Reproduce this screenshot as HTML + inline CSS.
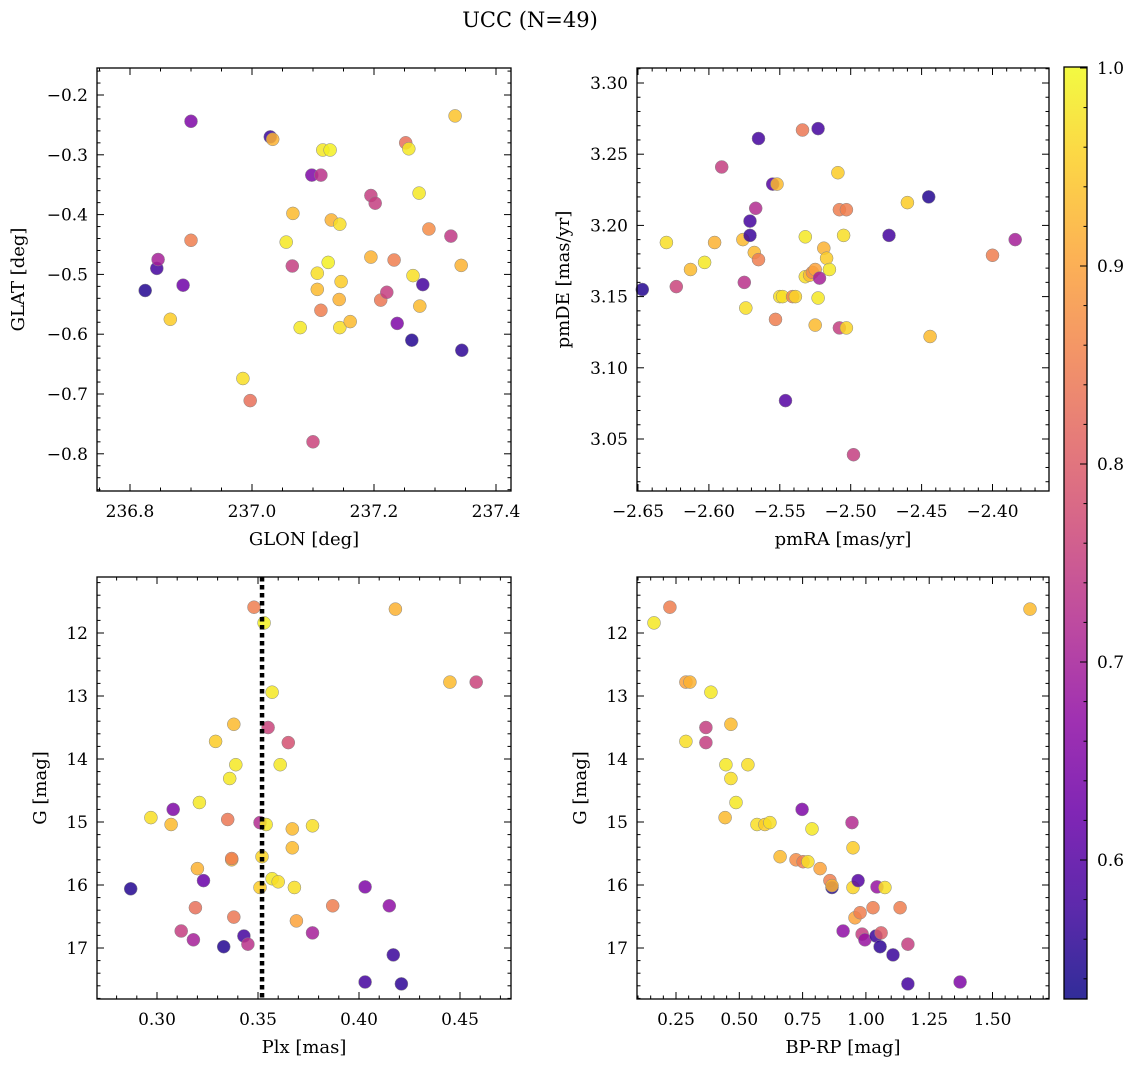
<!DOCTYPE html>
<html><head><meta charset="utf-8"><style>
html,body{margin:0;padding:0;background:#fff;}
svg{display:block;font-family:"DejaVu Serif","Liberation Serif",serif;}
</style></head><body>
<svg id="fig" width="1136" height="1067" viewBox="0 0 1136 1067" xmlns="http://www.w3.org/2000/svg">
<defs>
<linearGradient id="cbgrad" x1="0" y1="1" x2="0" y2="0">
<stop offset="0" stop-color="#0d0887"/><stop offset="0.1" stop-color="#41049d"/><stop offset="0.2" stop-color="#6a00a8"/><stop offset="0.3" stop-color="#8f0da4"/><stop offset="0.4" stop-color="#b12a90"/><stop offset="0.5" stop-color="#cc4778"/><stop offset="0.6" stop-color="#e16462"/><stop offset="0.7" stop-color="#f2844b"/><stop offset="0.8" stop-color="#fca636"/><stop offset="0.9" stop-color="#fcce25"/><stop offset="1" stop-color="#f0f921"/>
</linearGradient>
</defs>
<text x="530" y="27" text-anchor="middle" font-size="21">UCC (N=49)</text>
</svg>
<script>
// Panel 1: GLON / GLAT
const glon = [236.825,236.844,236.846,236.866,236.887,236.900,236.900,236.985,236.997,237.030,237.034,237.056,237.066,237.067,237.079,237.098,237.100,237.107,237.107,237.113,237.113,237.116,237.128,237.125,237.130,237.144,237.143,237.146,237.144,237.161,237.195,237.195,237.202,237.211,237.221,237.233,237.238,237.252,237.257,237.262,237.264,237.274,237.275,237.280,237.290,237.326,237.333,237.343,237.344];
const glat = [-0.527,-0.490,-0.475,-0.575,-0.518,-0.244,-0.443,-0.674,-0.711,-0.270,-0.274,-0.446,-0.486,-0.398,-0.589,-0.334,-0.780,-0.498,-0.525,-0.334,-0.560,-0.292,-0.292,-0.480,-0.409,-0.416,-0.542,-0.512,-0.589,-0.579,-0.368,-0.471,-0.381,-0.543,-0.530,-0.476,-0.582,-0.280,-0.290,-0.610,-0.502,-0.364,-0.553,-0.517,-0.424,-0.436,-0.235,-0.485,-0.627];
const prob1 = [0.55,0.58,0.70,0.95,0.63,0.65,0.85,0.97,0.83,0.57,0.92,0.98,0.75,0.93,0.98,0.65,0.76,0.97,0.93,0.73,0.85,0.98,0.99,0.99,0.92,0.97,0.92,0.95,0.97,0.93,0.75,0.92,0.75,0.84,0.75,0.85,0.65,0.83,0.98,0.55,0.97,0.98,0.93,0.58,0.87,0.74,0.94,0.92,0.56];
// Panel 2: pmRA / pmDE
const pmra = [-2.647,-2.630,-2.623,-2.613,-2.603,-2.596,-2.591,-2.575,-2.574,-2.576,-2.571,-2.571,-2.568,-2.567,-2.565,-2.565,-2.555,-2.552,-2.553,-2.550,-2.548,-2.546,-2.541,-2.539,-2.534,-2.532,-2.532,-2.529,-2.527,-2.525,-2.525,-2.523,-2.523,-2.522,-2.519,-2.517,-2.515,-2.509,-2.508,-2.508,-2.505,-2.503,-2.503,-2.498,-2.473,-2.460,-2.445,-2.444,-2.400,-2.384];
const pmde = [3.155,3.188,3.157,3.169,3.174,3.188,3.241,3.160,3.142,3.190,3.203,3.193,3.181,3.212,3.176,3.261,3.229,3.229,3.134,3.150,3.150,3.077,3.150,3.150,3.267,3.192,3.164,3.165,3.167,3.169,3.130,3.268,3.149,3.163,3.184,3.177,3.169,3.237,3.211,3.128,3.193,3.128,3.211,3.039,3.193,3.216,3.220,3.122,3.179,3.190];
const prob2 = [0.55,0.97,0.76,0.93,0.98,0.92,0.75,0.73,0.97,0.93,0.58,0.57,0.93,0.72,0.85,0.58,0.60,0.93,0.85,0.97,0.97,0.60,0.86,0.96,0.84,0.98,0.97,0.93,0.87,0.90,0.93,0.58,0.98,0.70,0.92,0.95,0.98,0.95,0.85,0.75,0.97,0.96,0.85,0.75,0.58,0.95,0.55,0.93,0.85,0.70];
// Panel 3: Plx / G
const plx = [0.287,0.297,0.307,0.308,0.312,0.318,0.319,0.320,0.321,0.323,0.329,0.333,0.335,0.336,0.337,0.337,0.338,0.338,0.339,0.343,0.345,0.348,0.351,0.352,0.351,0.353,0.354,0.355,0.357,0.357,0.360,0.361,0.365,0.367,0.367,0.368,0.369,0.377,0.377,0.387,0.403,0.403,0.415,0.417,0.418,0.421,0.445,0.458];
const gmag3 = [16.06,14.93,15.04,14.80,16.73,16.87,16.36,15.74,14.69,15.93,13.72,16.98,14.96,14.31,15.60,15.58,16.51,13.45,14.09,16.81,16.94,11.59,15.01,15.55,16.04,11.84,15.04,13.50,12.94,15.90,15.95,14.09,13.74,15.41,15.11,16.04,16.57,15.06,16.76,16.33,16.03,17.54,16.33,17.11,11.62,17.57,12.78,12.78];
const prob3 = [0.55,0.97,0.93,0.65,0.75,0.70,0.83,0.92,0.98,0.62,0.95,0.55,0.84,0.98,0.93,0.85,0.84,0.93,0.98,0.58,0.73,0.85,0.72,0.96,0.95,0.99,0.98,0.76,0.98,0.98,0.97,0.98,0.78,0.93,0.93,0.97,0.90,0.97,0.70,0.85,0.65,0.58,0.67,0.57,0.92,0.56,0.93,0.76];
const plxRef = [0.352];
// Panel 4: BP-RP / G
const bprp = [0.163,0.226,0.289,0.305,0.289,0.388,0.368,0.368,0.467,0.447,0.467,0.487,0.444,0.534,0.570,0.601,0.621,0.661,0.724,0.748,0.752,0.787,0.771,0.819,0.858,0.866,0.866,0.910,0.945,0.949,0.949,0.957,0.969,0.977,0.985,0.996,1.028,1.040,1.044,1.056,1.060,1.075,1.107,1.135,1.166,1.166,1.372,1.648];
const gmag4 = [11.84,11.59,12.78,12.78,13.72,12.94,13.50,13.74,13.45,14.09,14.31,14.69,14.93,14.09,15.04,15.04,15.01,15.55,15.60,14.80,15.63,15.11,15.63,15.74,15.93,16.04,16.01,16.73,15.01,15.41,16.04,16.52,15.93,16.44,16.78,16.87,16.36,16.81,16.03,16.98,16.76,16.04,17.11,16.36,16.94,17.57,17.54,11.62];
const prob4 = [0.98,0.85,0.90,0.92,0.97,0.98,0.75,0.75,0.93,0.98,0.97,0.98,0.93,0.97,0.97,0.95,0.97,0.93,0.87,0.65,0.85,0.98,0.97,0.90,0.85,0.55,0.92,0.67,0.72,0.95,0.96,0.90,0.60,0.85,0.75,0.68,0.85,0.57,0.68,0.56,0.80,0.97,0.57,0.85,0.75,0.58,0.65,0.93];
// Colorbar ticks
const cbTicks = [0.6,0.7,0.8,0.9,1.0];
const cbTickLabels = ["0.6","0.7","0.8","0.9","1.0"];

const VMIN = 0.530, VMAX = 1.0;
const NS = "http://www.w3.org/2000/svg";
const svg = document.getElementById('fig');
const plasma = [[13,8,135],[65,4,157],[106,0,168],[143,13,164],[177,42,144],[204,71,120],[225,100,98],[242,132,75],[252,166,54],[252,206,37],[240,249,33]];
function cmap(v){
  let t = (v - VMIN) / (VMAX - VMIN); t = Math.max(0, Math.min(1, t));
  const p = t * 10, i = Math.min(9, Math.floor(p)), f = p - i;
  const a = plasma[i], b = plasma[i+1];
  return 'rgb(' + [0,1,2].map(k => Math.round(a[k] + (b[k]-a[k])*f)).join(',') + ')';
}
function mk(tag, attrs, parent){
  const e = document.createElementNS(NS, tag);
  for (const k in attrs) e.setAttribute(k, attrs[k]);
  (parent || svg).appendChild(e);
  return e;
}
function decimals(step){ const s = String(step); return s.includes('.') ? s.split('.')[1].length : 0; }
function fmt(v, d){ const s = Math.abs(v).toFixed(d); return (v < -1e-9 ? '\u2212' : '') + s; }

function panel(o){
  const g = mk('g', {});
  
  
  const sx = v => o.x0 + (v - o.xmin) / (o.xmax - o.xmin) * (o.x1 - o.x0);
  const sy = o.yinv ? (v => o.y0 + (v - o.ymin) / (o.ymax - o.ymin) * (o.y1 - o.y0))
                    : (v => o.y1 - (v - o.ymin) / (o.ymax - o.ymin) * (o.y1 - o.y0));
  const pg = mk('g', {}, g);
  
  
  for (let i = 0; i < o.xs.length; i++){
    const c = mk('circle', {cx: sx(o.xs[i]).toFixed(1), cy: sy(o.ys[i]).toFixed(1), r: 6.5, fill: cmap(o.cs[i]), 'fill-opacity': 0.85, stroke: '#888', 'stroke-width': 0.5}, pg);
    
    
  }
  if (o.vline){
    const l = mk('line', {x1: sx(o.vline[0]), x2: sx(o.vline[0]), y1: o.y0, y2: o.y1, stroke: '#000', 'stroke-width': 4.5, 'stroke-dasharray': '4.5 3.5'}, g);
    
    
  }
  const fr = mk('rect', {x: o.x0, y: o.y0, width: o.x1 - o.x0, height: o.y1 - o.y0, fill: 'none', stroke: '#000', 'stroke-width': 1.3}, g);
  
  
  const tg = mk('g', {stroke: '#000', 'stroke-width': 1}, g);
  
  
  const dx = decimals(o.xstep), dy = decimals(o.ystep);
  const xs0 = Math.ceil((o.xmin - 1e-9) / o.xminor) * o.xminor;
  for (let v = xs0; v <= o.xmax + 1e-9; v += o.xminor){
    const X = sx(v);
    const major = Math.abs(v / o.xstep - Math.round(v / o.xstep)) < 1e-4;
    const L = major ? 7 : 3.5;
    mk('line', {x1: X, x2: X, y1: o.y1, y2: o.y1 - L}, tg);
    mk('line', {x1: X, x2: X, y1: o.y0, y2: o.y0 + L}, tg);
    if (major){
      const t = mk('text', {x: X, y: o.y1 + 26, 'text-anchor': 'middle', 'font-size': 17, stroke: 'none'}, g);
      t.textContent = fmt(Math.round(v / o.xstep) * o.xstep, dx);
      
      
    }
  }
  const ys0 = Math.ceil((o.ymin - 1e-9) / o.yminor) * o.yminor;
  for (let v = ys0; v <= o.ymax + 1e-9; v += o.yminor){
    const Y = sy(v);
    const major = Math.abs(v / o.ystep - Math.round(v / o.ystep)) < 1e-4;
    const L = major ? 7 : 3.5;
    mk('line', {x1: o.x0, x2: o.x0 + L, y1: Y, y2: Y}, tg);
    mk('line', {x1: o.x1, x2: o.x1 - L, y1: Y, y2: Y}, tg);
    if (major){
      const t = mk('text', {x: o.x0 - 9, y: Y + 6, 'text-anchor': 'end', 'font-size': 17, stroke: 'none'}, g);
      t.textContent = fmt(Math.round(v / o.ystep) * o.ystep, dy);
      
      
    }
  }
  const xl = mk('text', {x: (o.x0 + o.x1) / 2, y: o.y1 + 54, 'text-anchor': 'middle', 'font-size': 18}, g);
  xl.textContent = o.xlabel;
  
  
  const yx = o.ylx, yy = (o.y0 + o.y1) / 2;
  const yl = mk('text', {x: yx, y: yy, 'text-anchor': 'middle', 'font-size': 18, transform: 'rotate(-90 ' + yx + ' ' + yy + ')'}, g);
  yl.textContent = o.ylabel;
  
  
}

panel({name:'panel-glon-glat', x0:97, x1:511, y0:68, y1:491, xmin:236.8+(97-130)/610, xmax:236.8+(511-130)/610, ymin:-0.2-(491-95)/598, ymax:-0.2+(95-68)/598, xstep:0.2, xminor:0.05, ystep:0.1, yminor:0.02, xs:glon, ys:glat, cs:prob1, xlabel:'GLON [deg]', ylabel:'GLAT [deg]', ylx:24});
panel({name:'panel-pmra-pmde', x0:637, x1:1049, y0:68, y1:491, xmin:-2.65+(637-638)/1418, xmax:-2.65+(1049-638)/1418, ymin:3.30-(491-83)/1424, ymax:3.30+(83-68)/1424, xstep:0.05, xminor:0.01, ystep:0.05, yminor:0.01, xs:pmra, ys:pmde, cs:prob2, xlabel:'pmRA [mas/yr]', ylabel:'pmDE [mas/yr]', ylx:569});
panel({name:'panel-plx-g', x0:97, x1:511, y0:577, y1:999, xmin:0.30+(97-157)/2020, xmax:0.30+(511-157)/2020, ymin:12+(577-633)/63, ymax:12+(999-633)/63, yinv:true, xstep:0.05, xminor:0.01, ystep:1, yminor:0.2, xs:plx, ys:gmag3, cs:prob3, vline:plxRef, xlabel:'Plx [mas]', ylabel:'G [mag]', ylx:46});
panel({name:'panel-bprp-g', x0:637, x1:1049, y0:577, y1:999, xmin:0.25+(637-676)/253.2, xmax:0.25+(1049-676)/253.2, ymin:12+(577-633)/63, ymax:12+(999-633)/63, yinv:true, xstep:0.25, xminor:0.05, ystep:1, yminor:0.2, xs:bprp, ys:gmag4, cs:prob4, xlabel:'BP-RP [mag]', ylabel:'G [mag]', ylx:586});

(function(){
  const x0 = 1064, x1 = 1087, y0 = 67, y1 = 999;
  const cy = v => 68 + (1.0 - v) * 1980;
  const g = mk('g', {});
  
  
  mk('rect', {x: x0, y: y0, width: x1 - x0, height: y1 - y0, fill: 'url(#cbgrad)', 'fill-opacity': 0.85}, g);
  mk('rect', {x: x0, y: y0, width: x1 - x0, height: y1 - y0, fill: 'none', stroke: '#000', 'stroke-width': 1.3}, g);
  for (let v = 0.54; v <= 1.0001; v += 0.02){
    const Y = cy(v);
    const major = Math.abs(v * 10 - Math.round(v * 10)) < 1e-4;
    mk('line', {x1: x1, x2: x1 - (major ? 7 : 3.5), y1: Y, y2: Y, stroke: '#000', 'stroke-width': 1}, g);
  }
  cbTicks.forEach((v, i) => {
    const t = mk('text', {x: x1 + 10, y: cy(v) + 6, 'font-size': 17}, g);
    t.textContent = cbTickLabels[i];
    
    
  });
})();
</script>
</body></html>
